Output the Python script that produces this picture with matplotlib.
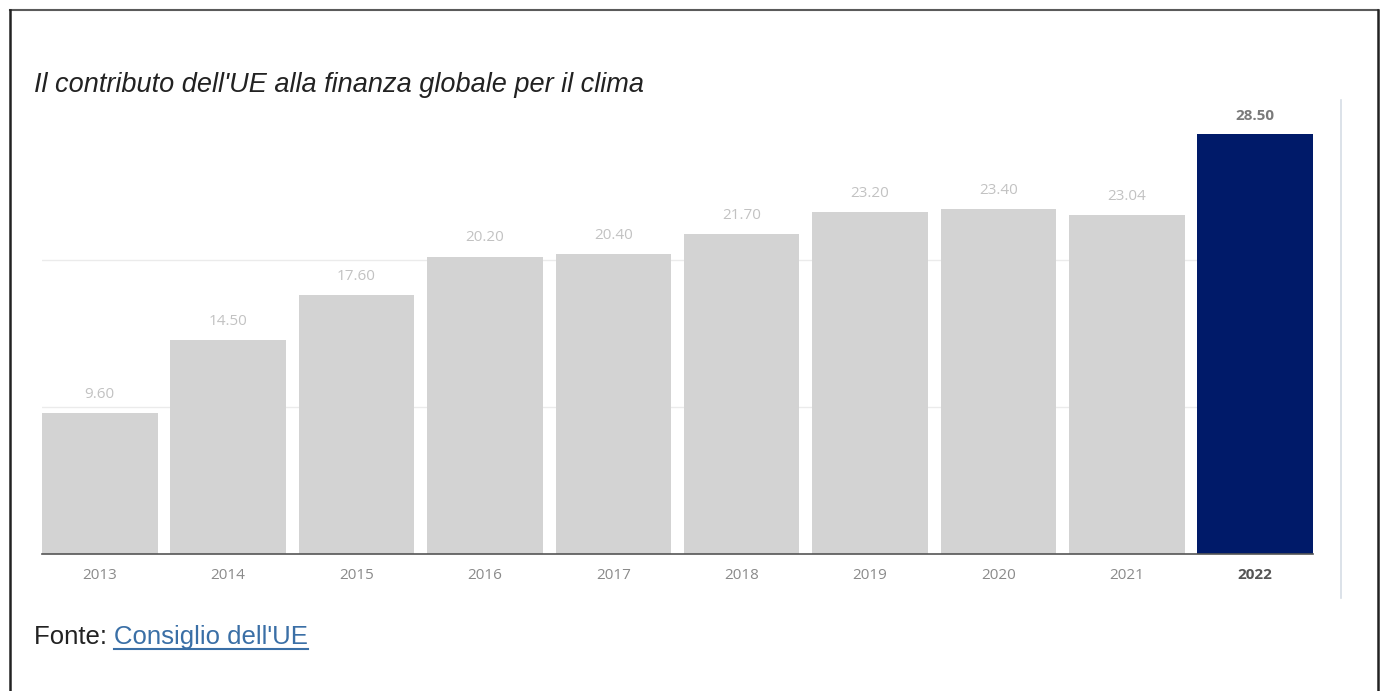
import matplotlib.pyplot as plt
from matplotlib.lines import Line2D

years = ['2013', '2014', '2015', '2016', '2017', '2018', '2019', '2020', '2021', '2022']
values = [9.60, 14.50, 17.60, 20.20, 20.40, 21.70, 23.20, 23.40, 23.04, 28.50]
highlight = '2022'

title = "Il contributo dell'UE alla finanza globale per il clima"
source_label = "Fonte: "
source_link = "Consiglio dell'UE"

fig = plt.figure(figsize=(13.84, 6.91), dpi=100)
W, H = 1384, 691

# axes in pixel coords: left 42, right 1313, bottom 554, top ~100
ax = fig.add_axes([42 / W, (H - 554) / H, (1313 - 42) / W, (554 - 99) / H])

colors = ['#001a69' if y == highlight else '#d3d3d3' for y in years]
x = range(len(years))
ax.bar(x, values, width=0.9, color=colors, zorder=2)
ax.set_xlim(-0.45, len(years) - 0.55)
ax.set_ylim(0, 30.9)

ax.set_yticks([10, 20])
ax.yaxis.grid(True, color='#ebebeb', linewidth=1, zorder=0)
ax.tick_params(axis='y', left=False, labelleft=False)
for s in ['top', 'right', 'left']:
    ax.spines[s].set_visible(False)
ax.spines['bottom'].set_color('#555555')
ax.spines['bottom'].set_linewidth(1.2)

ax.set_xticks(list(x))
ax.set_xticklabels(years, fontfamily='Open Sans', fontsize=11)
ax.tick_params(axis='x', bottom=False, pad=6.5)
for lbl, y in zip(ax.get_xticklabels(), years):
    if y == highlight:
        lbl.set_fontweight('bold')
        lbl.set_color('#555555')
    else:
        lbl.set_color('#8a8a8a')

for i, (y, v) in enumerate(zip(years, values)):
    hl = y == highlight
    ax.annotate(f'{v:.2f}', (i, v), xytext=(0, 8), textcoords='offset points',
                ha='center', va='bottom', fontfamily='Open Sans', fontsize=11,
                color='#7a7a7a' if hl else '#c2c2c2',
                fontweight='bold' if hl else 'normal')

# light vertical rule on the right of the chart
fig.add_artist(Line2D([1341 / W, 1341 / W], [(H - 100) / H, (H - 598) / H],
                      color='#d6dde5', linewidth=1.2))

# outer frame (top, left, right)
fig.add_artist(Line2D([9.5 / W, 1377.5 / W], [(H - 10) / H, (H - 10) / H],
                      color='#5a5a5a', linewidth=1.5))
fig.add_artist(Line2D([9.5 / W, 9.5 / W], [(H - 10) / H, 0],
                      color='#222222', linewidth=1.8))
fig.add_artist(Line2D([1377.5 / W, 1377.5 / W], [(H - 10) / H, 0],
                      color='#222222', linewidth=1.8))

fig.text(34 / W, (H - 92) / H, title, fontfamily='Liberation Sans',
         fontstyle='italic', fontsize=19.5, color='#222222', va='baseline')

t = fig.text(34 / W, (H - 644) / H, source_label, fontfamily='Liberation Sans',
             fontsize=18.5, color='#222222', va='baseline')
fig.canvas.draw()
bb = t.get_window_extent()
link = fig.text(bb.x1 / W, (H - 644) / H, source_link, fontfamily='Liberation Sans',
                fontsize=18.5, color='#3a6fa6', va='baseline')
fig.canvas.draw()
lb = link.get_window_extent()
fig.add_artist(Line2D([lb.x0 / W, lb.x1 / W], [(H - 649) / H, (H - 649) / H],
                      color='#3a6fa6', linewidth=1.5))

fig.savefig('out.png', dpi=100)
